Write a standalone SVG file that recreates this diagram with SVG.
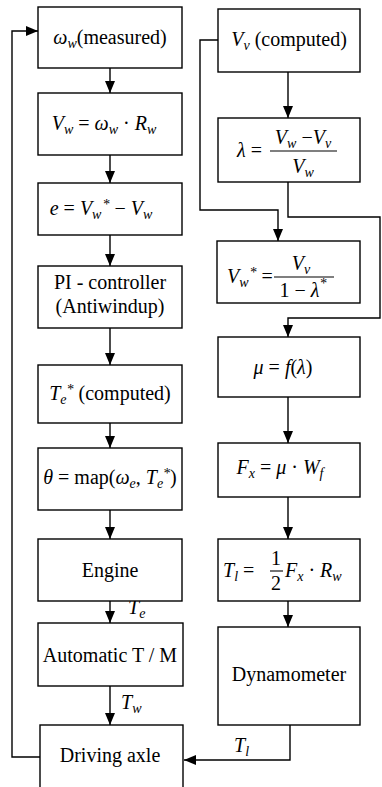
<svg xmlns="http://www.w3.org/2000/svg" width="382" height="787" viewBox="0 0 382 787">
<defs>
<style>
.box{fill:#fff;stroke:#000;stroke-width:1.4}
.t{font-family:"Liberation Serif","Times New Roman",serif;font-size:20px;fill:#000;white-space:pre}
.i{font-style:italic}
.s{font-size:14px;font-style:italic}
.c{fill:none;stroke:#000;stroke-width:1.4}
.bar{stroke:#000;stroke-width:1.1}
</style>
<marker id="ah" markerUnits="userSpaceOnUse" markerWidth="12" markerHeight="10" refX="12" refY="5" orient="auto">
<path d="M0,0 L12,5 L0,10 z" fill="#000"/>
</marker>
</defs>
<rect width="382" height="787" fill="#fff"/>

<g id="connectors">
<line class="c" x1="110" y1="68" x2="110" y2="93" marker-end="url(#ah)"/>
<line class="c" x1="110" y1="155" x2="110" y2="183" marker-end="url(#ah)"/>
<line class="c" x1="110" y1="235" x2="110" y2="266" marker-end="url(#ah)"/>
<line class="c" x1="110" y1="328" x2="110" y2="365" marker-end="url(#ah)"/>
<line class="c" x1="110" y1="423" x2="110" y2="448" marker-end="url(#ah)"/>
<line class="c" x1="110" y1="510" x2="110" y2="539" marker-end="url(#ah)"/>
<line class="c" x1="110" y1="601" x2="110" y2="623" marker-end="url(#ah)"/>
<line class="c" x1="110" y1="686" x2="110" y2="725" marker-end="url(#ah)"/>
<polyline class="c" points="40,757 12,757 12,31 38,31" marker-end="url(#ah)"/>
<line class="c" x1="288" y1="72" x2="288" y2="118" marker-end="url(#ah)"/>
<polyline class="c" points="218,40 200,40 200,210 278,210 278,241" marker-end="url(#ah)"/>
<polyline class="c" points="288,182 288,217 380,217 380,318 288,318 288,337" marker-end="url(#ah)"/>
<line class="c" x1="288" y1="397" x2="288" y2="443" marker-end="url(#ah)"/>
<line class="c" x1="288" y1="497" x2="288" y2="539" marker-end="url(#ah)"/>
<line class="c" x1="288" y1="601" x2="288" y2="627" marker-end="url(#ah)"/>
<polyline class="c" points="290,725 290,760 184,760" marker-end="url(#ah)"/>
<text class="t" x="128" y="614"><tspan class="i">T</tspan><tspan class="s" dy="4">e</tspan></text>
<text class="t" x="121" y="709"><tspan class="i">T</tspan><tspan class="s" dy="4">w</tspan></text>
<text class="t" x="234" y="752"><tspan class="i">T</tspan><tspan class="s" dy="4">l</tspan></text>
</g>

<g id="omega-measured">
<rect class="box" x="38" y="7" width="144" height="61"/>
<text class="t" x="110" y="44" text-anchor="middle"><tspan class="i">ω</tspan><tspan class="s" dy="4">w</tspan><tspan dy="-4">(measured)</tspan></text>
</g>
<g id="vw-compute">
<rect class="box" x="38" y="93" width="144" height="62"/>
<text class="t" x="104" y="130" text-anchor="middle"><tspan class="i">V</tspan><tspan class="s" dy="4">w</tspan><tspan dy="-4"> = </tspan><tspan class="i">ω</tspan><tspan class="s" dy="4">w</tspan><tspan dy="-4"> · </tspan><tspan class="i">R</tspan><tspan class="s" dy="4">w</tspan></text>
</g>
<g id="error">
<rect class="box" x="38" y="183" width="144" height="52"/>
<text class="t" x="101" y="215" text-anchor="middle"><tspan class="i">e</tspan> = <tspan class="i">V</tspan><tspan class="s" dy="4">w</tspan><tspan class="s" dx="1" dy="-10">*</tspan><tspan dy="6"> − </tspan><tspan class="i">V</tspan><tspan class="s" dy="4">w</tspan></text>
</g>
<g id="pi-controller">
<rect class="box" x="38" y="266" width="144" height="62"/>
<text class="t" x="110" y="289" text-anchor="middle">PI - controller</text>
<text class="t" x="110" y="313" text-anchor="middle">(Antiwindup)</text>
</g>
<g id="te-computed">
<rect class="box" x="38" y="365" width="144" height="58"/>
<text class="t" x="110" y="400" text-anchor="middle"><tspan class="i">T</tspan><tspan class="s" dy="4">e</tspan><tspan class="s" dy="-10">*</tspan><tspan dy="6"> (computed)</tspan></text>
</g>
<g id="theta-map">
<rect class="box" x="38" y="448" width="144" height="62"/>
<text class="t" x="110" y="484" text-anchor="middle"><tspan class="i">θ</tspan> = map(<tspan class="i">ω</tspan><tspan class="s" dy="4">e</tspan><tspan dy="-4">, </tspan><tspan class="i">T</tspan><tspan class="s" dy="4">e</tspan><tspan class="s" dy="-10">*</tspan><tspan dy="6">)</tspan></text>
</g>
<g id="engine">
<rect class="box" x="38" y="539" width="144" height="62"/>
<text class="t" x="110" y="577" text-anchor="middle">Engine</text>
</g>
<g id="automatic-tm">
<rect class="box" x="38" y="623" width="145" height="63"/>
<text class="t" x="110" y="662" text-anchor="middle">Automatic T / M</text>
</g>
<g id="driving-axle">
<rect class="box" x="40" y="725" width="143" height="80"/>
<text class="t" x="110" y="762" text-anchor="middle">Driving axle</text>
</g>

<g id="vv-computed">
<rect class="box" x="218" y="9" width="142" height="63"/>
<text class="t" x="289" y="46" text-anchor="middle"><tspan class="i">V</tspan><tspan class="s" dy="4">v</tspan><tspan dy="-4"> (computed)</tspan></text>
</g>
<g id="lambda">
<rect class="box" x="218" y="118" width="142" height="64"/>
<text class="t" x="237" y="157"><tspan class="i">λ</tspan> =</text>
<text class="t" x="303" y="144" text-anchor="middle"><tspan class="i">V</tspan><tspan class="s" dy="4">w</tspan><tspan dy="-4"> −</tspan><tspan class="i">V</tspan><tspan class="s" dy="4">v</tspan></text>
<line class="bar" x1="270" y1="151" x2="337" y2="151"/>
<text class="t" x="303" y="173" text-anchor="middle"><tspan class="i">V</tspan><tspan class="s" dy="4">w</tspan></text>
</g>
<g id="vw-star">
<rect class="box" x="217" y="241" width="143" height="62"/>
<text class="t" x="227" y="283"><tspan class="i">V</tspan><tspan class="s" dy="4">w</tspan><tspan class="s" dx="1" dy="-10">*</tspan><tspan dy="6"> =</tspan></text>
<text class="t" x="301" y="270" text-anchor="middle"><tspan class="i">V</tspan><tspan class="s" dy="4">v</tspan></text>
<line class="bar" x1="274" y1="277" x2="334" y2="277"/>
<text class="t" x="303" y="297" text-anchor="middle">1 − <tspan class="i">λ</tspan><tspan class="s" dy="-9">*</tspan></text>
</g>
<g id="mu">
<rect class="box" x="218" y="337" width="142" height="60"/>
<text class="t" x="283" y="374" text-anchor="middle"><tspan class="i">μ</tspan> = <tspan class="i">f</tspan>(<tspan class="i">λ</tspan>)</text>
</g>
<g id="fx">
<rect class="box" x="218" y="443" width="142" height="54"/>
<text class="t" x="280" y="474" text-anchor="middle"><tspan class="i">F</tspan><tspan class="s" dy="4">x</tspan><tspan dy="-4"> = </tspan><tspan class="i">μ</tspan> · <tspan class="i">W</tspan><tspan class="s" dy="4">f</tspan></text>
</g>
<g id="tl">
<rect class="box" x="218" y="539" width="142" height="62"/>
<text class="t" x="223" y="577"><tspan class="i">T</tspan><tspan class="s" dy="4">l</tspan><tspan dy="-4"> =</tspan></text>
<text class="t" x="276" y="565" text-anchor="middle">1</text>
<line class="bar" x1="270" y1="571" x2="283" y2="571"/>
<text class="t" x="276" y="590" text-anchor="middle">2</text>
<text class="t" x="285" y="577"><tspan class="i">F</tspan><tspan class="s" dy="4">x</tspan><tspan dy="-4"> · </tspan><tspan class="i">R</tspan><tspan class="s" dy="4">w</tspan></text>
</g>
<g id="dynamometer">
<rect class="box" x="218" y="627" width="142" height="98"/>
<text class="t" x="289" y="681" text-anchor="middle">Dynamometer</text>
</g>
</svg>
